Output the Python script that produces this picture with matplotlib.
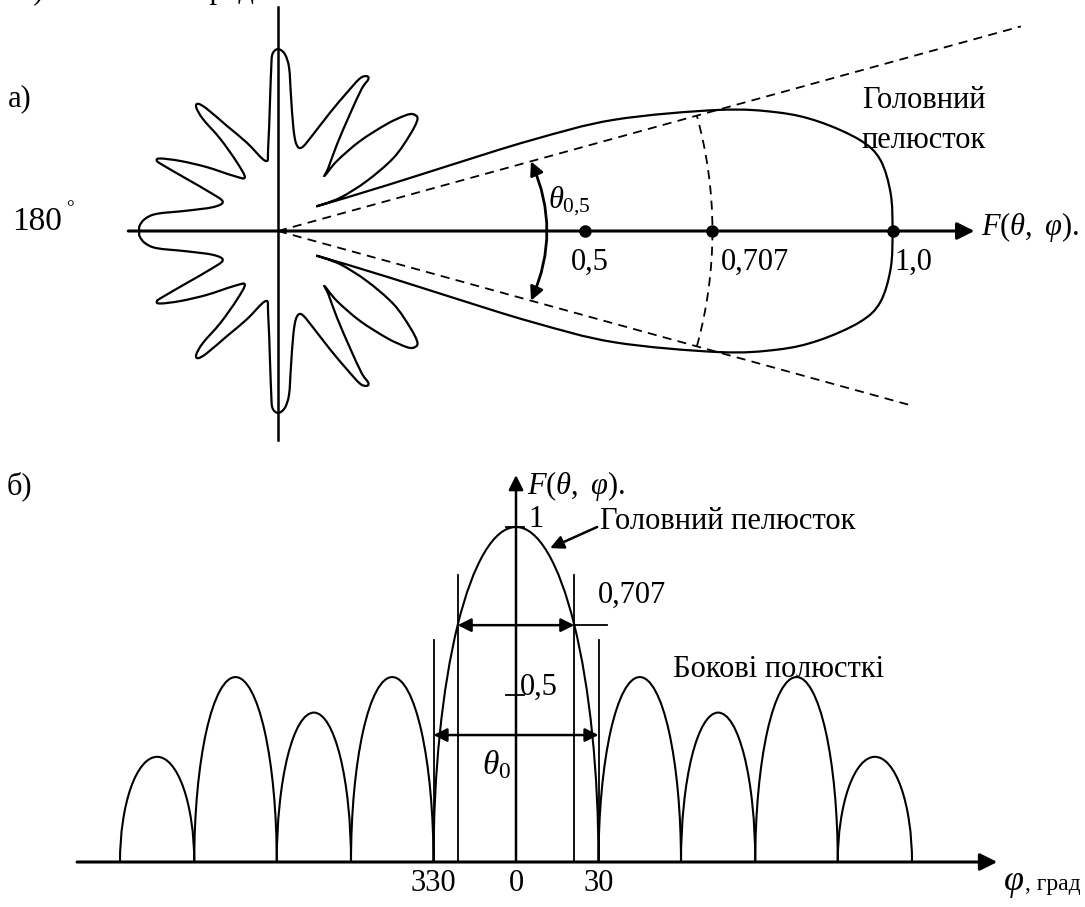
import numpy as np
import matplotlib.pyplot as plt
from matplotlib.patches import Arc, FancyArrowPatch, PathPatch
from matplotlib.path import Path

plt.rcParams['font.family'] = ['Liberation Serif', 'DejaVu Serif']
plt.rcParams['mathtext.fontset'] = 'custom'
plt.rcParams['mathtext.rm'] = 'Liberation Serif'
plt.rcParams['mathtext.it'] = 'Liberation Serif:italic'

# а) polar pattern: upper half of the outline, units of the main-lobe length
lobe_x = [1.000, 0.997, 0.980, 0.947, 0.880, 0.813, 0.717, 0.547, 0.413, 0.280, 0.179, 0.066,
          0.101, 0.144, 0.188, 0.215, 0.227, 0.220, 0.207, 0.177, 0.133, 0.096, 0.076,
          0.082, 0.096, 0.117, 0.136, 0.147, 0.144, 0.133, 0.112, 0.085, 0.057, 0.039, 0.030,
          0.025, 0.021, 0.018, 0.011, 0.000, -0.009, -0.011, -0.013, -0.016, -0.020,
          -0.051, -0.083, -0.116, -0.130, -0.133, -0.122, -0.094, -0.067, -0.054,
          -0.073, -0.116, -0.159, -0.192, -0.197, -0.187, -0.149, -0.111, -0.090,
          -0.105, -0.149, -0.197, -0.216, -0.225, -0.226]
lobe_y = [0.000, 0.061, 0.116, 0.148, 0.178, 0.193, 0.197, 0.181, 0.148, 0.107, 0.075, 0.041,
          0.054, 0.081, 0.119, 0.157, 0.182, 0.190, 0.188, 0.174, 0.146, 0.114, 0.090,
          0.103, 0.141, 0.190, 0.231, 0.247, 0.252, 0.248, 0.225, 0.193, 0.157, 0.136, 0.141,
          0.168, 0.222, 0.266, 0.288, 0.296, 0.288, 0.266, 0.212, 0.136, 0.114,
          0.144, 0.171, 0.199, 0.207, 0.201, 0.182, 0.150, 0.112, 0.087,
          0.090, 0.104, 0.114, 0.118, 0.114, 0.107, 0.085, 0.063, 0.048,
          0.039, 0.033, 0.028, 0.020, 0.009, 0.000]
levels = [0.5, 0.707, 1.0]
level_labels = ['0,5', '0,707', '1,0']
half_angle = 15.4        # degrees, half-power direction

# б) cartesian pattern
main_null = 30           # degrees
side_bounds = [30, 60, 87, 117, 144]
side_peaks = [0.552, 0.446, 0.552, 0.314]
tick_pos = [-30, 0, 30]
tick_labels = ['330', '0', '30']

FS = 22
W, H = 1085, 907


def smooth_path(x, y):
    # closed Catmull-Rom curve through the outline points
    pts = np.column_stack([x, y])
    n = len(pts)
    verts = [pts[0]]
    codes = [Path.MOVETO]
    for i in range(n):
        p0, p1, p2, p3 = pts[i - 1], pts[i], pts[(i + 1) % n], pts[(i + 2) % n]
        verts += [p1 + (p2 - p0) / 6, p2 - (p3 - p1) / 6, p2]
        codes += [Path.CURVE4] * 3
    return Path(verts, codes)


def arrow(ax, a, b, style='-|>', lw=1.5, ms=20, conn='arc3'):
    ax.add_patch(FancyArrowPatch(a, b, arrowstyle=style, mutation_scale=ms, lw=lw,
                                 color='k', shrinkA=0, shrinkB=0, connectionstyle=conn))


fig = plt.figure(figsize=(W / 100, H / 100), dpi=100)

# ---------------- а) ----------------
R = 614.5                       # px per unit
ox, oy = 278, 231               # origin in px
ax1 = fig.add_axes([0, (H - 450) / H, 1, 450 / H])
ax1.set_xlim(-ox / R, (W - ox) / R)
ax1.set_ylim(-(450 - oy) / R, oy / R)
ax1.axis('off')

xs = np.array(lobe_x)
ys = np.array(lobe_y)
full_x = np.concatenate([xs, xs[-2:0:-1]])
full_y = np.concatenate([ys, -ys[-2:0:-1]])
ax1.add_patch(PathPatch(smooth_path(full_x, full_y), fill=False, lw=1.6, ec='k'))

ax1.plot([0, 0], [-0.340, 0.3645], color='k', lw=1.8)
arrow(ax1, (-0.2436, 0), (1.1333, 0), lw=2.2, ms=26)

# half-power directions: the upper one runs on to the top edge
t = np.radians(half_angle)
for s, x_end in ((1, 1.209), (-1, 1.027)):
    ax1.plot([0, x_end], [0, s * x_end * np.tan(t)], color='k', lw=1.3,
             ls=(0, (5, 3.5)))
ax1.add_patch(Arc((0, 0), 2 * levels[1], 2 * levels[1], theta1=-half_angle,
                  theta2=half_angle, color='k', lw=1.3, ls=(0, (5, 3.5))))
ax1.plot(levels, [0] * len(levels), 'o', color='k', ms=8)

r_arc = 0.427
arrow(ax1, (r_arc * np.cos(t), r_arc * np.sin(t)), (r_arc * np.cos(t), -r_arc * np.sin(t)),
      style='<|-|>', lw=2.0, ms=20, conn='arc3,rad=-0.22')

for v, lab, dx in zip(levels, level_labels, [-0.023, 0.013, 0.003]):
    ax1.text(v + dx, -0.027, lab, fontsize=FS, ha='left', va='top')
ax1.text(0.439, 0.048, r'$\theta_{0{,}5}$', fontsize=FS, ha='left', va='center')
ax1.text(0.950, 0.200, 'Головний', fontsize=FS, ha='left', va='baseline')
ax1.text(0.950, 0.135, 'пелюсток', fontsize=FS, ha='left', va='baseline')
ax1.text(1.1434, 0.007, r'$F(\theta,\ \varphi)$.', fontsize=FS, ha='left', va='center')
ax1.text(-0.4394, 0.2148, 'а)', fontsize=FS, ha='left', va='center')
ax1.text(-0.4329, 0.0016, '180', fontsize=FS + 2, ha='left', va='baseline')
ax1.text(-0.345, 0.0366, '°', fontsize=14, ha='left', va='center')
# previous caption line, only its lowest strokes fall inside the picture
ax1.text(-0.4199, 0.3792, 'в)', fontsize=FS, ha='left', va='baseline')
ax1.text(-0.1318, 0.3792, 'град', fontsize=FS, ha='left', va='baseline')

# ---------------- б) ----------------
sx, sy = 2.75, 335              # px per degree, px per unit
bx, by = 516, 862               # origin in px
ax2 = fig.add_axes([0, 0, 1, (H - 450) / H])
ax2.set_xlim(-bx / sx, (W - bx) / sx)
ax2.set_ylim(-(H - by) / sy, (by - 450) / sy)
ax2.axis('off')

arrow(ax2, (-159.6, 0), (175, 0), lw=2.2, ms=26)
arrow(ax2, (0, 0), (0, 1.155), lw=1.8, ms=22)

ax2.add_patch(Arc((0, 0), 2 * main_null, 2.0, theta1=0, theta2=180, color='k', lw=1.5))
for side in (1, -1):
    for a, b, h in zip(side_bounds[:-1], side_bounds[1:], side_peaks):
        ax2.add_patch(Arc((side * (a + b) / 2, 0), b - a, 2 * h, theta1=0, theta2=180,
                          color='k', lw=1.5))

phi_h = main_null * np.sqrt(1 - levels[1] ** 2)
for s in (1, -1):
    ax2.plot([s * phi_h, s * phi_h], [0, 0.857], color='k', lw=1.3)
    ax2.plot([s * main_null, s * main_null], [0, 0.663], color='k', lw=1.3)
ax2.plot([phi_h, 33], [levels[1], levels[1]], color='k', lw=1.3)
arrow(ax2, (-phi_h, levels[1]), (phi_h, levels[1]), style='<|-|>', lw=1.8, ms=20)
arrow(ax2, (-main_null, 0.379), (main_null, 0.379), style='<|-|>', lw=1.8, ms=20)

for v in (1.0, 0.5):
    ax2.plot([-3.6, 2.9], [v, v], color='k', lw=1.3)
ax2.text(4.4, 1.0, '1', fontsize=FS, ha='left', va='baseline')
ax2.text(1.5, 0.5, '0,5', fontsize=FS, ha='left', va='baseline')
ax2.text(30.5, 0.995, 'Головний пелюсток', fontsize=FS, ha='left', va='baseline')
arrow(ax2, (29.5, 1.0), (12.4, 0.937), lw=1.8, ms=20)
ax2.text(29.7, levels[1] + 0.066, '0,707', fontsize=FS, ha='left', va='baseline')
ax2.text(57, 0.552, 'Бокові полюсткі', fontsize=FS, ha='left', va='baseline')
ax2.text(-7, 0.29, r'$\theta_0$', fontsize=FS + 2, ha='center', va='center')
for p, lab in zip(tick_pos, tick_labels):
    ax2.text(p, -0.063, lab, fontsize=FS, ha='center', va='center')
ax2.text(177.0, -0.063, r'$\varphi$', fontsize=FS + 4, ha='left', va='center')
ax2.text(185.0, -0.068, ', град', fontsize=17, ha='left', va='center')
ax2.text(-185.1, 1.122, 'б)', fontsize=FS, ha='left', va='center')
ax2.text(4.0, 1.122, r'$F(\theta,\ \varphi)$.', fontsize=FS, ha='left', va='center')

fig.savefig('out.png', dpi=100)
